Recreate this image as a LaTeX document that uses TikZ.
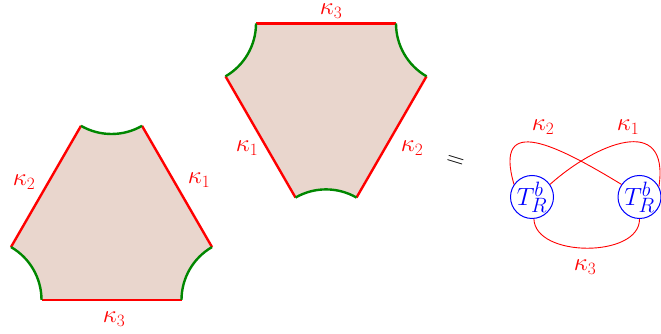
\documentclass[tikz,border=0pt]{standalone}
\usetikzlibrary{calc}
\definecolor{hexfill}{RGB}{233,214,205}
\definecolor{arcgreen}{RGB}{0,135,0}
\begin{document}
\begin{tikzpicture}[x=1pt,y=1pt,
  redside/.style={draw=red,line width=2.4pt},
  greenarc/.style={draw=arcgreen,line width=2.4pt},
  lab/.style={text=red,inner sep=0pt,font=\fontsize{26}{30}\selectfont},
  knot/.style={draw=red,line width=0.9pt},
  tnode/.style={circle,draw=blue,text=blue,line width=1pt,minimum size=43pt,inner sep=0pt,font=\fontsize{29}{32}\selectfont}]
\useasboundingbox (0,0) rectangle (661,334);
% left shape: triangle corners
\coordinate (A) at (111.5,261);
\coordinate (B) at (-19.5,34.1);
\coordinate (C) at (242.5,34.1);
\def\rr{61}
\fill[hexfill] ($(A)+(240:\rr)$) arc[start angle=240,end angle=300,radius=\rr]
  -- ($(C)+(120:\rr)$) arc[start angle=120,end angle=180,radius=\rr]
  -- ($(B)+(0:\rr)$) arc[start angle=0,end angle=60,radius=\rr] -- cycle;
\draw[redside] ($(A)+(300:\rr)$) -- ($(C)+(120:\rr)$);
\draw[redside] ($(C)+(180:\rr)$) -- ($(B)+(0:\rr)$);
\draw[redside] ($(B)+(60:\rr)$) -- ($(A)+(240:\rr)$);
\draw[greenarc] ($(A)+(240:\rr)$) arc[start angle=240,end angle=300,radius=\rr];
\draw[greenarc] ($(C)+(120:\rr)$) arc[start angle=120,end angle=180,radius=\rr];
\draw[greenarc] ($(B)+(0:\rr)$) arc[start angle=0,end angle=60,radius=\rr];
\node[lab] (l2) at (24,152) {$\kappa_2$};
\node[lab] (l1) at (199,154) {$\kappa_1$};
\node[lab] (l3) at (114,15) {$\kappa_3$};
% right shape
\coordinate (D) at (195,310.5);
\coordinate (E) at (457,310.5);
\coordinate (F) at (326,83.6);
\fill[hexfill] ($(D)+(0:\rr)$) -- ($(E)+(180:\rr)$) arc[start angle=180,end angle=240,radius=\rr]
  -- ($(F)+(60:\rr)$) arc[start angle=60,end angle=120,radius=\rr]
  -- ($(D)+(300:\rr)$) arc[start angle=300,end angle=360,radius=\rr] -- cycle;
\draw[redside] ($(D)+(0:\rr)$) -- ($(E)+(180:\rr)$);
\draw[redside] ($(E)+(240:\rr)$) -- ($(F)+(60:\rr)$);
\draw[redside] ($(F)+(120:\rr)$) -- ($(D)+(300:\rr)$);
\draw[greenarc] ($(E)+(180:\rr)$) arc[start angle=180,end angle=240,radius=\rr];
\draw[greenarc] ($(F)+(60:\rr)$) arc[start angle=60,end angle=120,radius=\rr];
\draw[greenarc] ($(D)+(300:\rr)$) arc[start angle=300,end angle=360,radius=\rr];
\node[lab] (r3) at (331,322.5) {$\kappa_3$};
\node[lab] (r1) at (247,186) {$\kappa_1$};
\node[lab] (r2) at (412,186) {$\kappa_2$};
% equals
\node[inner sep=0pt,rotate=-17,font=\fontsize{27}{30}\selectfont] (eq) at (455,172) {$=$};
% knot diagram
\node[tnode] (L) at (532,137) {$T_R^b$};
\node[tnode] (R) at (639.5,137) {$T_R^b$};
\draw[knot] (L.145) .. controls (493,222) and (558,188) .. (R.145);
\draw[knot] (L.35) .. controls (595,190) and (670,222) .. (R.28);
\draw[knot] (L.-85) .. controls (535,76) and (640,76) .. (R.-90);
\node[lab] (k2) at (543,207) {$\kappa_2$};
\node[lab] (k1) at (628,207) {$\kappa_1$};
\node[lab] (k3) at (585,67) {$\kappa_3$};
\end{tikzpicture}
\end{document}
